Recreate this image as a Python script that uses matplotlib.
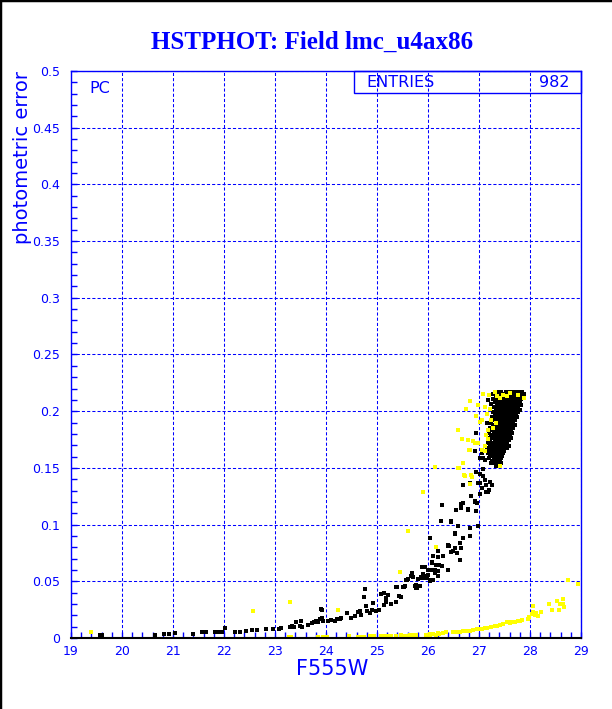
import numpy as np
import matplotlib.pyplot as plt
from matplotlib.lines import Line2D
from matplotlib.patches import Rectangle
from matplotlib.ticker import MultipleLocator, FormatStrFormatter

BLUE = '#0000ff'

title = 'HSTPHOT: Field lmc_u4ax86'
n_entries = 982

# black stars, bright end: thin tail along the error curve
tail_x = [19.56, 19.61, 20.64, 20.82, 20.93, 21.03, 21.39, 21.56, 21.65, 21.82, 21.88, 21.96,
          22.01, 22.21, 22.31, 22.44, 22.54, 22.65, 22.83, 22.96, 23.07, 23.08, 23.11, 23.30,
          23.33, 23.37, 23.42, 23.50, 23.52, 23.51, 23.65, 23.73, 23.76, 23.81, 23.84, 23.89,
          23.94, 23.93, 24.03, 24.10, 24.17, 24.22, 24.27, 24.30, 23.90, 23.92, 24.41, 24.50,
          24.56, 24.63, 24.66, 24.68, 24.74, 24.76, 24.78, 24.80, 24.87, 24.91, 24.93, 24.99,
          25.03, 25.08, 25.13, 25.17, 25.22, 25.18, 25.13, 25.28, 25.38, 25.48, 25.37, 25.51,
          25.58, 25.67, 25.69, 25.77, 25.79, 25.84, 25.89, 25.80, 25.86, 26.00, 26.03, 26.07,
          26.10, 26.16, 26.20, 26.19, 26.13]
tail_y = [0.0024, 0.0024, 0.0024, 0.0035, 0.0035, 0.0044, 0.0035, 0.0050, 0.0050, 0.0050, 0.0050, 0.0056,
          0.0085, 0.0053, 0.0053, 0.0065, 0.0068, 0.0068, 0.0076, 0.0082, 0.0082, 0.0080, 0.0090, 0.0094,
          0.0106, 0.0100, 0.0144, 0.0106, 0.0100, 0.0150, 0.0115, 0.0135, 0.0144, 0.0153, 0.0144, 0.0165,
          0.0153, 0.0180, 0.0153, 0.0159, 0.0153, 0.0165, 0.0170, 0.0176, 0.0253, 0.0247, 0.0223, 0.0176,
          0.0194, 0.0232, 0.0241, 0.0203, 0.0365, 0.0435, 0.0282, 0.0241, 0.0223, 0.0247, 0.0306, 0.0241,
          0.0247, 0.0385, 0.0400, 0.0350, 0.0380, 0.0320, 0.0290, 0.0297, 0.0320, 0.0365, 0.0453, 0.0453,
          0.0512, 0.0547, 0.0571, 0.0467, 0.0438, 0.0459, 0.0623, 0.0517, 0.0541, 0.0556, 0.0512, 0.0673,
          0.0512, 0.0644, 0.0594, 0.0717, 0.0570]

# black stars, the steep part between 0.04 and 0.16
rise_x = [27.01, 27.11, 27.24, 27.34, 27.07, 26.72, 26.69, 26.82, 26.98, 27.14, 27.18, 27.01,
          26.85, 26.69, 26.65, 26.78, 26.95, 26.28, 26.46, 26.59, 26.82, 26.98, 26.52, 26.69,
          26.62, 26.82, 26.39, 26.49, 26.29, 26.65, 26.03, 26.20, 26.10, 26.07, 26.00, 25.90,
          25.71, 25.80, 25.61, 25.54, 25.74, 25.44, 25.77, 26.03, 26.13, 25.97, 26.95, 27.08,
          26.92, 27.05, 27.21, 26.25, 26.45, 26.64, 26.55, 26.79, 26.97, 27.14, 27.20, 27.25,
          27.02, 26.92, 27.02, 27.12, 26.63, 26.53, 26.42, 26.27, 26.07, 25.94, 26.53, 26.40,
          26.46, 26.57, 26.22, 26.40, 25.91, 26.07, 26.20, 25.99, 25.57, 25.70, 25.88, 25.78,
          25.39, 25.53, 26.95, 26.88, 26.92, 27.05, 27.08, 27.18, 27.24, 27.16]
rise_y = [0.159, 0.157, 0.154, 0.153, 0.149, 0.143, 0.135, 0.137, 0.137, 0.135, 0.129, 0.127,
          0.125, 0.119, 0.115, 0.114, 0.112, 0.117, 0.103, 0.099, 0.097, 0.099, 0.093, 0.088,
          0.084, 0.090, 0.082, 0.077, 0.072, 0.079, 0.088, 0.077, 0.072, 0.066, 0.060, 0.056,
          0.054, 0.052, 0.052, 0.046, 0.046, 0.037, 0.044, 0.050, 0.060, 0.053, 0.146, 0.143,
          0.121, 0.132, 0.138, 0.103, 0.1026, 0.118, 0.113, 0.113, 0.1188, 0.129, 0.1305, 0.135,
          0.1364, 0.120, 0.145, 0.139, 0.0688, 0.079, 0.081, 0.0635, 0.0673, 0.063, 0.092, 0.081,
          0.0762, 0.0753, 0.0644, 0.060, 0.0623, 0.060, 0.0547, 0.0547, 0.0512, 0.054, 0.0526, 0.0447,
          0.0453, 0.0453, 0.181, 0.1735, 0.165, 0.163, 0.159, 0.210, 0.206, 0.190]

# black stars, dense clump at the faint end (one list of magnitudes per error row)
clump_rows_y = [0.2165, 0.2148, 0.2126, 0.2104, 0.2081, 0.2058, 0.2036, 0.2013, 0.1990, 0.1968,
                0.1945, 0.1922, 0.1900, 0.1877, 0.1855, 0.1832, 0.1810, 0.1787, 0.1764, 0.1742,
                0.1719, 0.1697, 0.1674, 0.1651, 0.1629, 0.1606, 0.1584, 0.1561, 0.1539, 0.1516]
clump_rows_x = [
    [27.31, 27.37, 27.44, 27.52, 27.57, 27.63, 27.71, 27.77, 27.84],
    [27.28, 27.34, 27.40, 27.47, 27.54, 27.60, 27.67, 27.74, 27.81, 27.89],
    [27.33, 27.42, 27.48, 27.55, 27.61, 27.66, 27.70, 27.78, 27.86],
    [27.27, 27.36, 27.45, 27.51, 27.58, 27.63, 27.69, 27.75, 27.83],
    [27.32, 27.39, 27.47, 27.53, 27.59, 27.66, 27.72, 27.80],
    [27.35, 27.43, 27.50, 27.56, 27.62, 27.68, 27.75, 27.82],
    [27.29, 27.38, 27.46, 27.52, 27.58, 27.65, 27.71, 27.77],
    [27.33, 27.41, 27.48, 27.55, 27.61, 27.67, 27.74, 27.80],
    [27.27, 27.36, 27.44, 27.51, 27.57, 27.63, 27.70, 27.76],
    [27.31, 27.40, 27.47, 27.53, 27.60, 27.66, 27.73],
    [27.26, 27.34, 27.42, 27.49, 27.55, 27.62, 27.68, 27.75],
    [27.30, 27.38, 27.45, 27.52, 27.59, 27.64, 27.71],
    [27.24, 27.33, 27.41, 27.48, 27.54, 27.61, 27.67],
    [27.28, 27.36, 27.43, 27.50, 27.57, 27.63, 27.70],
    [27.22, 27.31, 27.39, 27.46, 27.53, 27.59, 27.66],
    [27.26, 27.34, 27.42, 27.49, 27.55, 27.62],
    [27.20, 27.29, 27.37, 27.44, 27.51, 27.58, 27.64],
    [27.24, 27.32, 27.40, 27.47, 27.54, 27.61],
    [27.19, 27.27, 27.35, 27.43, 27.50, 27.57, 27.62],
    [27.22, 27.31, 27.38, 27.46, 27.53, 27.59],
    [27.17, 27.25, 27.33, 27.41, 27.48, 27.55],
    [27.21, 27.29, 27.37, 27.44, 27.51, 27.58],
    [27.16, 27.24, 27.32, 27.40, 27.47, 27.54],
    [27.20, 27.28, 27.36, 27.43, 27.50],
    [27.18, 27.26, 27.34, 27.42, 27.48],
    [27.22, 27.30, 27.38, 27.45],
    [27.20, 27.29, 27.37, 27.44],
    [27.26, 27.33, 27.41],
    [27.29, 27.37, 27.43],
    [27.33, 27.40],
]

# yellow stars: isolated ones, the low sequence, and those around the clump
yel_x = [19.40, 22.57, 23.30, 24.24, 25.46, 26.16, 25.90, 25.61, 26.14, 28.75, 28.95,
         23.27, 23.32, 23.84, 23.94, 24.01, 24.45, 24.63, 24.69, 24.74, 24.86, 24.92, 24.95,
         25.07, 25.13, 25.22, 25.28, 25.38, 25.51, 25.61, 25.67, 25.77, 25.97, 26.03, 26.10,
         26.16, 26.22, 24.69, 24.74, 24.86, 25.08, 25.15, 25.22, 25.28, 25.38, 25.48, 25.58,
         25.64, 25.71, 25.77, 25.97, 26.03, 26.10, 26.20, 26.29, 26.36, 26.49, 26.62, 26.75,
         26.82, 26.88, 26.96, 27.01, 27.11, 27.24, 27.31, 27.41, 27.47, 27.54, 27.63, 27.70,
         27.76, 27.96, 27.99, 28.03, 28.06, 28.09, 28.12, 28.22, 28.37, 28.44, 28.52, 28.56,
         28.58, 28.64, 28.65, 28.67, 28.06, 28.16, 26.55, 26.68, 27.05, 27.15, 27.35, 27.60,
         27.80, 27.85,
         27.08, 27.20, 27.31, 27.35, 27.41, 27.47, 27.54, 27.60, 27.76, 27.88, 26.82, 26.98,
         27.11, 27.21, 27.16, 27.01, 27.05, 27.24, 26.75, 26.59, 26.67, 26.78, 26.88, 26.99,
         26.80, 27.05, 27.11, 27.18, 27.41, 26.69, 26.59, 26.70, 26.85, 27.11, 27.13, 27.18,
         27.27, 27.34, 26.95, 26.82, 26.92, 26.86, 26.73, 26.61, 26.82]
yel_y = [0.0050, 0.0235, 0.0318, 0.0247, 0.0580, 0.0800, 0.1286, 0.0942, 0.1510, 0.0512, 0.0473,
         0.0009, 0.0009, 0.0009, 0.0009, 0.0009, 0.0018, 0.0009, 0.0009, 0.0009, 0.0018, 0.0018, 0.0018,
         0.0018, 0.0018, 0.0018, 0.0018, 0.0018, 0.0018, 0.0018, 0.0026, 0.0018, 0.0026, 0.0026, 0.0032,
         0.0026, 0.0032, 0.0012, 0.0012, 0.0018, 0.0018, 0.0018, 0.0021, 0.0021, 0.0021, 0.0024, 0.0021,
         0.0024, 0.0026, 0.0026, 0.0029, 0.0032, 0.0035, 0.0041, 0.0047, 0.0050, 0.0053, 0.0056, 0.0062,
         0.0065, 0.0071, 0.0076, 0.0082, 0.0085, 0.0100, 0.0109, 0.0112, 0.0123, 0.0138, 0.0144, 0.0141,
         0.0147, 0.0165, 0.0182, 0.0212, 0.0229, 0.0200, 0.0223, 0.0229, 0.0297, 0.0247, 0.0329, 0.0244,
         0.0300, 0.0344, 0.0297, 0.0276, 0.0285, 0.0194, 0.0053, 0.0060, 0.0082, 0.0090, 0.0110, 0.0130,
         0.0150, 0.0160,
         0.2156, 0.2147, 0.2168, 0.2132, 0.2118, 0.2147, 0.2132, 0.2162, 0.2147, 0.2118, 0.2088, 0.2059,
         0.2038, 0.2015, 0.1979, 0.1903, 0.1926, 0.1926, 0.2015, 0.1838, 0.1756, 0.1750, 0.1735, 0.1721,
         0.1662, 0.1662, 0.1647, 0.1756, 0.1515, 0.1544, 0.1500, 0.1433, 0.1433, 0.1691, 0.1794, 0.1838,
         0.1853, 0.1897, 0.1956, 0.1660, 0.1720, 0.1420, 0.1430, 0.1500, 0.1360]

# flatten the clump rows
clump_x, clump_y = [], []
for yv, xs in zip(clump_rows_y, clump_rows_x):
    clump_x += xs
    clump_y += [yv] * len(xs)

black_x = tail_x + rise_x + clump_x
black_y = tail_y + rise_y + clump_y

fig = plt.figure(figsize=(6.12, 7.09), dpi=100)
ax = fig.add_axes([71 / 612, 71 / 709, 510 / 612, 567 / 709])

ax.plot(black_x, black_y, 's', color='black', ms=2.4, mew=0, antialiased=False)
ax.plot(yel_x, yel_y, 's', color='#ffff00', ms=2.2, mew=0, antialiased=False)

ax.set_xlim(19, 29)
ax.set_ylim(0, 0.5)
ax.xaxis.set_major_locator(MultipleLocator(1))
ax.xaxis.set_minor_locator(MultipleLocator(0.2))
ax.yaxis.set_major_locator(MultipleLocator(0.05))
ax.yaxis.set_minor_locator(MultipleLocator(0.01))
ax.yaxis.set_major_formatter(FormatStrFormatter('%g'))
ax.xaxis.set_major_formatter(FormatStrFormatter('%g'))

ax.tick_params(which='both', direction='in', length=4, width=1, color=BLUE,
               labelcolor=BLUE, labelsize=9, top=False, right=False)
ax.tick_params(axis='y', pad=8)
ax.tick_params(axis='x', pad=5)
ax.grid(which='major', color=BLUE, linestyle=(0, (3, 2)), linewidth=0.75)

for side in ['left', 'top', 'right']:
    ax.spines[side].set_color(BLUE)
    ax.spines[side].set_linewidth(1)
ax.spines['bottom'].set_color('black')
ax.spines['bottom'].set_linewidth(1.5)

# stats box
ax.add_patch(Rectangle((0.555, 0.961), 0.445, 0.039, transform=ax.transAxes,
                       fill=False, ec=BLUE, lw=1, clip_on=False))
ax.text(0.580, 0.980, 'ENTRIES', transform=ax.transAxes, ha='left', va='center',
        fontsize=11.5, color=BLUE)
ax.text(0.978, 0.980, str(n_entries), transform=ax.transAxes, ha='right', va='center',
        fontsize=11.5, color=BLUE)
ax.text(0.036, 0.970, 'PC', transform=ax.transAxes, ha='left', va='center',
        fontsize=11.5, color=BLUE)

fig.text(312 / 612, 1 - 49 / 709, title, ha='center', va='baseline',
         family='Liberation Serif', fontweight='bold', fontsize=18, color=BLUE)
fig.text(332 / 612, 1 - 669 / 709, 'F555W', ha='center', va='center', fontsize=15, color=BLUE)
fig.text(23 / 612, 1 - 157 / 709, 'photometric error', rotation=90, ha='center', va='center',
         fontsize=14, color=BLUE)

# frame lines on the top and left edge of the canvas
fig.add_artist(Line2D([0, 1], [1, 1], transform=fig.transFigure, color='black', lw=2.5))
fig.add_artist(Line2D([0, 0], [0, 1], transform=fig.transFigure, color='black', lw=2.5))

fig.savefig('out.png', dpi=100)
